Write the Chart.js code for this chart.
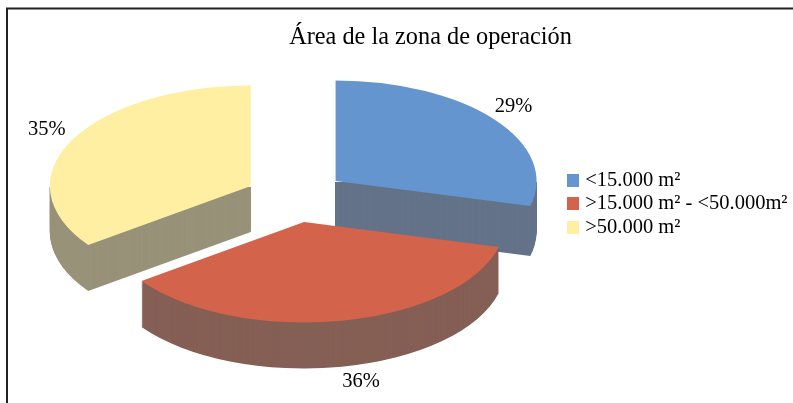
<!DOCTYPE html>
<html><head><meta charset="utf-8">
<style>html,body{margin:0;padding:0;background:#fff}canvas{display:block}</style>
<script src="https://cdn.jsdelivr.net/npm/chart.js@4"></script>
</head><body>
<canvas id="c" width="793" height="403"></canvas>
<script>
const titleText = 'Área de la zona de operación';
const categories = ['<15.000 m²', '>15.000 m² - <50.000m²', '>50.000 m²'];
const shares = [29, 36, 35];
const topColors = ['#6495CF', '#D4634B', '#FFEFA2'];
const wallColors = ['#647389', '#855F55', '#989279'];
const explode = [52, 51, 49];
const wallDepths = [50, 46, 46];
const labelNudges = [[178, -74], [57, 160], [-204, -56]];
const FONT = '"Liberation Serif","Times New Roman",serif';
const center = {x: 294.5, y: 197}, tilt = 0.5, radius = 201;

function base(chart) {
  const a = chart.chartArea;
  return {x: (a.left + a.right) / 2, y: (a.top + a.bottom) / 2};
}
function apex(arc, i) {
  const mid = (arc.startAngle + arc.endAngle) / 2, t = explode[i];
  return {x: center.x + Math.cos(mid) * t, y: center.y + Math.sin(mid) * t * tilt};
}
function applyTilt(chart, ctx, dy) {
  const b = base(chart);
  ctx.transform(1, 0, 0, tilt, center.x - b.x, center.y + dy - b.y * tilt);
}
function swatch(color) {
  const s = document.createElement('canvas');
  s.width = 13; s.height = 13;
  const g = s.getContext('2d');
  g.fillStyle = color; g.fillRect(0, 0, 13, 13);
  return s;
}
const pie3d = {
  id: 'pie3d',
  afterLayout(chart) {
    const l = chart.legend, t = chart.titleBlock;
    l.left = 567; l.right = 793; l.top = 167; l.bottom = 261;
    if (t) { t.left = 230.5; t.right = 630.5; }
  },
  afterDatasetsUpdate(chart) {
    chart.getDatasetMeta(0).data.forEach((arc, i) => {
      const mid = (arc.startAngle + arc.endAngle) / 2;
      arc.x += Math.cos(mid) * explode[i];
      arc.y += Math.sin(mid) * explode[i];
    });
  },
  beforeDatasetDraw(chart) {
    const ctx = chart.ctx, arcs = chart.getDatasetMeta(0).data;
    [0, 2, 1].forEach(i => {
      const arc = arcs[i], orig = arc.options;
      const o = Object.create(orig);
      Object.defineProperty(o, 'backgroundColor', {value: wallColors[i]});
      arc.options = o;
      ctx.save();
      ctx.beginPath(); ctx.rect(0, apex(arc, i).y + 1, 793, 403); ctx.clip();
      for (let d = wallDepths[i]; d >= 1; d--) {
        ctx.save(); applyTilt(chart, ctx, d); arc.draw(ctx); ctx.restore();
      }
      ctx.restore();
      arc.options = orig;
    });
    ctx.save(); applyTilt(chart, ctx, 0);
  },
  afterDatasetDraw(chart) { chart.ctx.restore(); },
  afterDraw(chart) {
    const ctx = chart.ctx, arcs = chart.getDatasetMeta(0).data;
    ctx.save();
    ctx.fillStyle = '#000'; ctx.font = '20.5px ' + FONT;
    ctx.textAlign = 'center'; ctx.textBaseline = 'middle';
    arcs.forEach((arc, i) => {
      const a = apex(arc, i);
      ctx.fillText(shares[i] + '%', a.x + labelNudges[i][0], a.y + labelNudges[i][1]);
    });
    ctx.strokeStyle = '#222'; ctx.lineWidth = 2;
    ctx.beginPath(); ctx.moveTo(7, 403); ctx.lineTo(7, 8.5); ctx.lineTo(793, 8.5); ctx.stroke();
    ctx.restore();
  }
};
new Chart(document.getElementById('c'), {
  type: 'pie',
  data: {labels: categories, datasets: [{
    data: shares, backgroundColor: topColors, borderWidth: 0,
    offset: 0, radius: radius, clip: false
  }]},
  options: {
    responsive: false, animation: false, events: [],
    layout: {padding: 0},
    plugins: {
      tooltip: {enabled: false},
      title: {display: true, text: titleText, color: '#000', font: {family: FONT, size: 24.3, weight: 'normal'}, padding: {top: 23, bottom: 0}, position: 'top'},
      legend: {position: 'right', align: 'start', labels: {
        color: '#000', font: {family: FONT, size: 20.5}, usePointStyle: true,
        boxWidth: 5, boxHeight: 13, pointStyleWidth: 5, padding: 3,
        generateLabels(chart) {
          return categories.map((text, i) => ({text, index: i, pointStyle: swatch(topColors[i]), fillStyle: topColors[i], strokeStyle: topColors[i], lineWidth: 0}));
        }
      }}
    }
  },
  plugins: [pie3d]
});
</script></body></html>
